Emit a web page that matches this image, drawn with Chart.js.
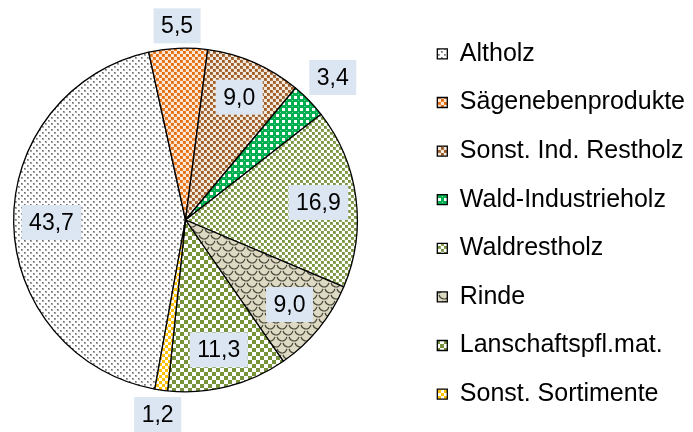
<!DOCTYPE html>
<html>
<head>
<meta charset="utf-8">
<script src="https://cdn.jsdelivr.net/npm/chart.js@4/dist/chart.umd.min.js"></script>
<style>
  html, body { margin: 0; background: #fff; }
</style>
</head>
<body>
<canvas id="pie" width="693" height="432"></canvas>
<script>
// ── Data ─────────────────────────────────
const categories = ['Altholz', 'Sägenebenprodukte', 'Sonst. Ind. Restholz', 'Wald-Industrieholz',
                    'Waldrestholz', 'Rinde', 'Lanschaftspfl.mat.', 'Sonst. Sortimente'];
const shares     = [43.7, 5.5, 9.0, 3.4, 16.9, 9.0, 11.3, 1.2];

const FONT = '"Liberation Sans", Arial, sans-serif';

// ── Pattern tiles ────────────────────────
function tile(size, draw) {
    const c = document.createElement('canvas');
    c.width = c.height = size;
    draw(c.getContext('2d'), size);
    return c;
}
// staggered squares: soft halo (alpha) with a solid core
function dots(bg, fg, step, dot, halo) {
    return tile(step, (g, s) => {
        g.fillStyle = bg; g.fillRect(0, 0, s, s);
        g.fillStyle = fg;
        [[0, 0], [s / 2, s / 2]].forEach(([x, y]) => {
            g.globalAlpha = halo;
            g.fillRect(x, y, dot + 1, dot + 1);
            g.globalAlpha = 1;
            g.fillRect(x, y, dot, dot);
        });
    });
}
function checker(bg, fg, cell) {
    return tile(cell * 2, (g) => {
        g.fillStyle = bg; g.fillRect(0, 0, cell * 2, cell * 2);
        g.fillStyle = fg;
        g.fillRect(0, 0, cell, cell);
        g.fillRect(cell, cell, cell, cell);
    });
}
const spheres = tile(6, (g) => {
    g.fillStyle = '#00B050'; g.fillRect(0, 0, 6, 6);
    g.fillStyle = '#ffffff';
    g.fillRect(0, 0, 3, 3);
    g.fillStyle = '#7fd8a6';
    g.fillRect(4, 4, 1, 1);
});
const shingles = tile(12, (g) => {
    g.fillStyle = '#DDD9C3'; g.fillRect(0, 0, 12, 12);
    g.strokeStyle = '#4a4a3c'; g.lineWidth = 1.2;
    g.beginPath(); g.arc(6, 0, 5, 0.2, Math.PI - 0.2); g.stroke();
    g.beginPath(); g.arc(0, 6, 5, 0.2, Math.PI - 0.2); g.stroke();
    g.beginPath(); g.arc(12, 6, 5, 0.2, Math.PI - 0.2); g.stroke();
});

const ctx = document.getElementById('pie').getContext('2d');
const tiles = [
    dots('#ffffff', '#6a6a6a', 6, 1, 0.6),
    dots('#FCE6D6', '#E46C0A', 6, 2, 0.8),
    dots('#F3E8DC', '#9C5A24', 6, 2, 0.8),
    spheres,
    dots('#ffffff', '#77933C', 6, 2, 0.8),
    shingles,
    checker('#ffffff', '#77933C', 4),
    checker('#ffffff', '#FFC000', 3)
];
const fills = tiles.map(t => ctx.createPattern(t, 'repeat'));

// ── Value boxes ──────────────────────────
const fmt = v => v.toFixed(1).replace('.', ',');

const valueBoxes = {
    id: 'valueBoxes',
    afterDatasetsDraw(chart) {
        const c = chart.ctx;
        const meta = chart.getDatasetMeta(0);
        c.save();
        c.font = '23px ' + FONT;
        c.textAlign = 'center';
        c.textBaseline = 'middle';
        meta.data.forEach((arc, i) => {
            const p = arc.getProps(['x', 'y', 'startAngle', 'endAngle', 'outerRadius'], true);
            const mid = (p.startAngle + p.endAngle) / 2;
            const cos = Math.cos(mid), sin = Math.sin(mid);
            const txt = fmt(shares[i]);
            const w = c.measureText(txt).width + 15, h = 35;
            // small slices: box sits just outside the rim, others inside
            const dist = shares[i] < 6
                ? p.outerRadius + 4 + Math.abs(cos) * w / 2 + Math.abs(sin) * h / 2
                : p.outerRadius * 0.78;
            const px = p.x + cos * dist;
            const py = p.y + sin * dist;
            c.fillStyle = '#DCE6F2';
            c.fillRect(px - w / 2, py - h / 2, w, h);
            c.fillStyle = '#000';
            c.fillText(txt, px, py + 1);
        });
        c.restore();
    }
};

// pie sits in a square box on the left, legend keeps its own spot
const pieBox = {
    id: 'pieBox',
    afterLayout(chart) {
        const a = chart.chartArea;
        a.left = 13; a.right = 358;
        a.top = 47.5; a.bottom = 392.5;
        a.width = a.right - a.left;
        a.height = a.bottom - a.top;
    }
};

// ── Chart ────────────────────────────────
new Chart(ctx, {
    type: 'pie',
    data: {
        labels: categories,
        datasets: [{
            data: shares,
            backgroundColor: fills,
            borderColor: '#000',
            borderWidth: 1.3
        }]
    },
    options: {
        responsive: false,
        animation: false,
        rotation: 190.3,
        layout: { padding: { left: 0, right: -2, top: 16, bottom: 0 } },
        plugins: {
            tooltip: { enabled: false },
            legend: {
                position: 'right',
                labels: {
                    boxWidth: 10,
                    boxHeight: 10,
                    padding: 23.6,
                    color: '#000',
                    font: { family: FONT, size: 25 }
                }
            }
        }
    },
    plugins: [pieBox, valueBoxes]
});
</script>
</body>
</html>
